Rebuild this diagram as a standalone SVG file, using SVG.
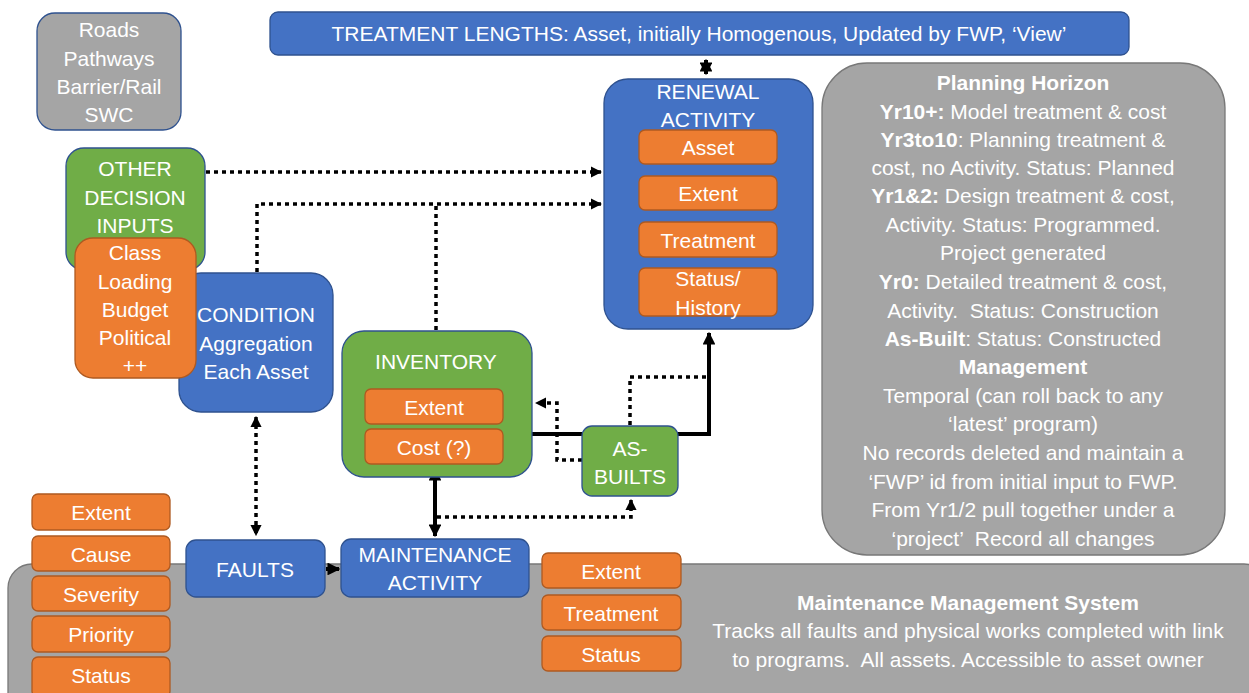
<svg xmlns="http://www.w3.org/2000/svg" width="1249" height="693" viewBox="0 0 1249 693">
<defs>
<marker id="ah" viewBox="0 0 10 10" refX="9" refY="5" markerWidth="3.2" markerHeight="3.2" orient="auto-start-reverse" markerUnits="strokeWidth">
<path d="M0,0 L10,5 L0,10 z" fill="#000"/>
</marker>
<style>
text{font-family:"Liberation Sans",Arial,sans-serif;font-size:21px;fill:#fff;text-anchor:middle}
.blue{fill:#4472C4;stroke:#2F528F;stroke-width:1.3}
.green{fill:#70AD47;stroke:#2F528F;stroke-width:1.3}
.orange{fill:#ED7D31;stroke:#AE5A21;stroke-width:1.3}
.gray{fill:#A5A5A5;stroke:#787878;stroke-width:1.3}
.grayb{fill:#A5A5A5;stroke:#2F528F;stroke-width:1.3}
.dot{fill:none;stroke:#000;stroke-width:3.5;stroke-dasharray:4 4}
.solid{fill:none;stroke:#000;stroke-width:4}
</style>
</defs>

<g id="mms">
<rect class="gray" x="8" y="564" width="1260" height="160" rx="24"/>
<text x="968" y="610" font-weight="bold">Maintenance Management System</text>
<text x="968" y="638">Tracks all faults and physical works completed with link</text>
<text x="968" y="667" xml:space="preserve">to programs.  All assets. Accessible to asset owner</text>
</g>

<g id="roads">
<rect class="grayb" x="37" y="13" width="144" height="117" rx="18"/>
<text x="109" y="37">Roads</text>
<text x="109" y="66">Pathways</text>
<text x="109" y="94">Barrier/Rail</text>
<text x="109" y="122">SWC</text>
</g>

<g id="treatment-lengths">
<rect class="blue" x="270" y="12" width="859" height="43" rx="8"/>
<text x="699" y="41">TREATMENT LENGTHS: Asset, initially Homogenous, Updated by FWP, ‘View’</text>
</g>

<g id="other-decision-inputs">
<rect class="green" x="66" y="148" width="139" height="122" rx="18"/>
<text x="135" y="176">OTHER</text>
<text x="135" y="205">DECISION</text>
<text x="135" y="233">INPUTS</text>
</g>

<g id="condition">
<rect class="blue" x="179" y="273" width="154" height="139" rx="22"/>
<text x="256" y="322">CONDITION</text>
<text x="256" y="351">Aggregation</text>
<text x="256" y="379">Each Asset</text>
</g>

<g id="decision-attrs">
<rect class="orange" x="75" y="238" width="121" height="140" rx="18"/>
<text x="135" y="260">Class</text>
<text x="135" y="289">Loading</text>
<text x="135" y="317">Budget</text>
<text x="135" y="345">Political</text>
<text x="135" y="373">++</text>
</g>

<g id="connectors">
<line class="dot" x1="206" y1="172" x2="601" y2="172" marker-end="url(#ah)"/>
<polyline class="dot" points="257,272 257,204 601,204" marker-end="url(#ah)"/>
<line class="dot" x1="436" y1="330" x2="436" y2="206"/>
<line class="solid" x1="706" y1="60" x2="706" y2="74" stroke-width="2.5" marker-start="url(#ah)" marker-end="url(#ah)"/>
<line class="dot" x1="256" y1="417" x2="256" y2="535" marker-start="url(#ah)" marker-end="url(#ah)"/>
<line class="solid" x1="326" y1="569" x2="339" y2="569" stroke-width="3" marker-end="url(#ah)"/>
<line class="solid" x1="435" y1="469" x2="435" y2="536" marker-start="url(#ah)" marker-end="url(#ah)"/>
<polyline class="dot" points="437,517 631,517 631,500" marker-end="url(#ah)"/>
<polyline class="solid" points="503,434 709,434 709,333" marker-end="url(#ah)"/>
<polyline class="dot" points="630,425 630,377 707,377"/>
<polyline class="dot" points="582,460 557,460 557,403 536,403" marker-end="url(#ah)"/>
</g>

<g id="renewal">
<rect class="blue" x="604" y="79" width="209" height="250" rx="24"/>
<text x="708" y="99">RENEWAL</text>
<text x="708" y="127">ACTIVITY</text>
<rect class="orange" x="639" y="130" width="138" height="34" rx="6"/>
<text x="708" y="155">Asset</text>
<rect class="orange" x="639" y="176" width="138" height="34" rx="6"/>
<text x="708" y="201">Extent</text>
<rect class="orange" x="639" y="222" width="138" height="35" rx="6"/>
<text x="708" y="248">Treatment</text>
<rect class="orange" x="639" y="268" width="138" height="48" rx="6"/>
<text x="708" y="286">Status/</text>
<text x="708" y="315">History</text>
</g>

<g id="planning-horizon">
<rect class="gray" x="822" y="63" width="403" height="492" rx="45"/>
<text x="1023" y="90" font-weight="bold">Planning Horizon</text>
<text x="1023" y="119"><tspan font-weight="bold">Yr10+:</tspan> Model treatment &amp; cost</text>
<text x="1023" y="147"><tspan font-weight="bold">Yr3to10</tspan>: Planning treatment &amp;</text>
<text x="1023" y="175">cost, no Activity. Status: Planned</text>
<text x="1023" y="203"><tspan font-weight="bold">Yr1&amp;2:</tspan> Design treatment &amp; cost,</text>
<text x="1023" y="232">Activity. Status: Programmed.</text>
<text x="1023" y="260">Project generated</text>
<text x="1023" y="289"><tspan font-weight="bold">Yr0:</tspan> Detailed treatment &amp; cost,</text>
<text x="1023" y="318" xml:space="preserve">Activity.  Status: Construction</text>
<text x="1023" y="346"><tspan font-weight="bold">As-Built</tspan>: Status: Constructed</text>
<text x="1023" y="374" font-weight="bold">Management</text>
<text x="1023" y="403">Temporal (can roll back to any</text>
<text x="1023" y="431">‘latest’ program)</text>
<text x="1023" y="460">No records deleted and maintain a</text>
<text x="1023" y="489">‘FWP’ id from initial input to FWP.</text>
<text x="1023" y="517">From Yr1/2 pull together under a</text>
<text x="1023" y="546" xml:space="preserve">‘project’  Record all changes</text>
</g>

<g id="inventory">
<rect class="green" x="342" y="331" width="190" height="146" rx="22"/>
<text x="436" y="369">INVENTORY</text>
<rect class="orange" x="365" y="389" width="138" height="35" rx="6"/>
<text x="434" y="415">Extent</text>
<rect class="orange" x="365" y="429" width="138" height="35" rx="6"/>
<text x="434" y="455">Cost (?)</text>
</g>

<g id="as-builts">
<rect class="green" x="582" y="426" width="96" height="70" rx="10"/>
<text x="630" y="456">AS-</text>
<text x="630" y="484">BUILTS</text>
</g>

<g id="fault-attrs">
<rect class="orange" x="32" y="494" width="138" height="36" rx="6"/>
<text x="101" y="520">Extent</text>
<rect class="orange" x="32" y="536" width="138" height="35" rx="6"/>
<text x="101" y="562">Cause</text>
<rect class="orange" x="32" y="576" width="138" height="35" rx="6"/>
<text x="101" y="602">Severity</text>
<rect class="orange" x="32" y="616" width="138" height="36" rx="6"/>
<text x="101" y="642">Priority</text>
<rect class="orange" x="32" y="657" width="138" height="40" rx="6"/>
<text x="101" y="683">Status</text>
</g>

<g id="faults">
<rect class="blue" x="186" y="540" width="139" height="57" rx="10"/>
<text x="255" y="577">FAULTS</text>
</g>

<g id="maintenance-activity">
<rect class="blue" x="341" y="539" width="188" height="58" rx="10"/>
<text x="435" y="562">MAINTENANCE</text>
<text x="435" y="590">ACTIVITY</text>
</g>

<g id="maint-attrs">
<rect class="orange" x="542" y="553" width="139" height="35" rx="6"/>
<text x="611" y="579">Extent</text>
<rect class="orange" x="542" y="595" width="139" height="35" rx="6"/>
<text x="611" y="621">Treatment</text>
<rect class="orange" x="542" y="636" width="139" height="35" rx="6"/>
<text x="611" y="662">Status</text>
</g>
</svg>
